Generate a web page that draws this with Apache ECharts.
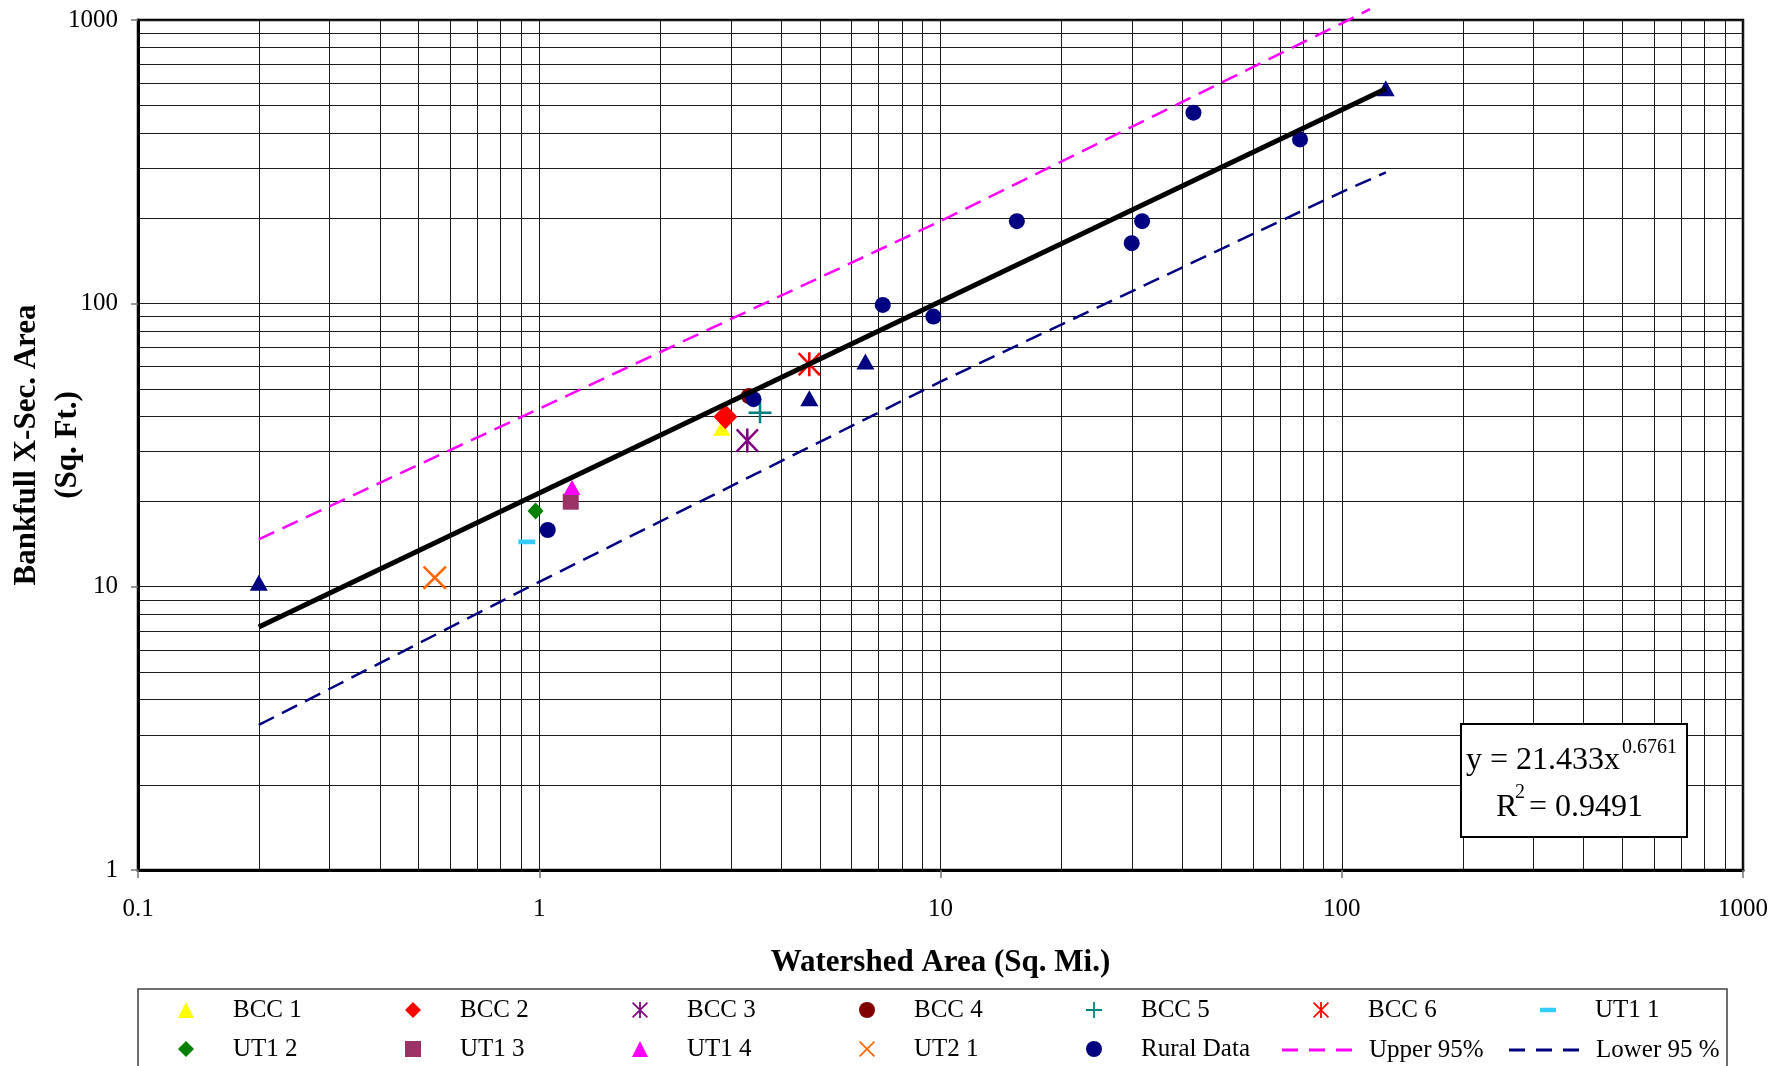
<!DOCTYPE html>
<html>
<head>
<meta charset="utf-8">
<script src="https://cdn.jsdelivr.net/npm/echarts@6/dist/echarts.min.js"></script>
<style>
  html, body { margin: 0; padding: 0; background: #ffffff; }
  #chart { width: 1789px; height: 1066px; }
</style>
</head>
<body>
<div id="chart"></div>
<script>
// ---------------- data ----------------
const xTicks = [0.1, 1, 10, 100, 1000];
const yTicks = [1, 10, 100, 1000];
const xMinorGrid = [0.2, 0.3, 0.4, 0.5, 0.6, 0.7, 0.8, 0.9,
                    2, 3, 4, 5, 6, 7, 8, 9,
                    20, 30, 40, 50, 60, 70, 80, 90,
                    200, 300, 400, 500, 600, 700, 800, 900];
const yMinorGrid = [2, 3, 4, 5, 6, 7, 8, 9,
                    20, 30, 40, 50, 60, 70, 80, 90,
                    200, 300, 400, 500, 600, 700, 800, 900];

const bcc1 = [[2.85, 36.2]];
const bcc2 = [[2.91, 39.8]];
const bcc3 = [[3.30, 32.8]];
const bcc4 = [[3.33, 47.1]];
const bcc5 = [[3.55, 41.1]];
const bcc6 = [[4.71, 61.0]];
const ut1_1 = [[0.931, 14.4]];
const ut1_2 = [[0.979, 18.5]];
const ut1_3 = [[1.198, 19.95]];
const ut1_4 = [[1.207, 22.4]];
const ut2_1 = [[0.549, 10.76]];
const ruralData = [[1.05, 15.85], [3.42, 45.9], [7.18, 98.7], [9.6, 89.8], [15.5, 195],
                   [29.96, 163], [31.8, 195], [42.7, 471], [78.7, 379]];
const otherData = [[0.2, 10.33], [4.71, 46.2], [6.5, 62.3], [128.7, 574]];
const trendLine = [[0.2, 7.2], [128.8, 572]];
const upper95 = [[0.2, 14.7], [1, 42.5], [10, 195], [100, 973], [117.5, 1092]];
const lower95 = [[0.2, 3.25], [1, 10.4], [10, 52.9], [100, 247], [128.8, 290]];

const legendColumns = [
  ['BCC 1', 'UT1 2'], ['BCC 2', 'UT1 3'], ['BCC 3', 'UT1 4'], ['BCC 4', 'UT2 1'],
  ['BCC 5', 'Rural Data'], ['BCC 6', 'Upper 95%'], ['UT1 1', 'Lower 95 %']
];
const lineLegendNames = ['Upper 95%', 'Lower 95 %'];

// ---------------- styling ----------------
const FONT = "'Liberation Serif','Times New Roman',serif";
const SYM = {
  triangle: 'path://M50 0 L100 100 L0 100 Z',
  diamond: 'path://M50 0 L100 50 L50 100 L0 50 Z',
  square: 'path://M0 0 H100 V100 H0 Z',
  plus: 'path://M44.5 0 H55.5 V44.5 H100 V55.5 H55.5 V100 H44.5 V55.5 H0 V44.5 H44.5 Z',
  cross: 'path://M0 7.5 L7.5 0 L100 92.5 L92.5 100 Z M92.5 0 L100 7.5 L7.5 100 L0 92.5 Z',
  star: 'path://M0 7.5 L7.5 0 L100 92.5 L92.5 100 Z M92.5 0 L100 7.5 L7.5 100 L0 92.5 Z M44.5 0 H55.5 V100 H44.5 Z',
  dash: 'path://M0 36 H100 V64 H0 Z M0 0 L0.4 0 L0 0.4 Z M100 100 L99.6 100 L100 99.6 Z'
};
const DASH_ICON = 'path://M0 5.5 H16 V8.5 H0 Z M27 5.5 H43 V8.5 H27 Z M54 5.5 H70 V8.5 H54 Z M0 0 L0.2 0 L0 0.2 Z M70 14 L69.8 14 L70 13.8 Z';

function scatter(name, data, symbol, size, color, z) {
  return {
    name: name, type: 'scatter', data: data, symbol: symbol, symbolSize: size,
    itemStyle: { color: color, opacity: 1 }, z: z || 3, silent: true
  };
}

function gridSeries(values, vertical) {
  return {
    type: 'custom', silent: true, z: 1,
    data: values.map(v => vertical ? [v, 1] : [1, v]),
    encode: { x: 0, y: 1 },
    renderItem: function (params, api) {
      const cs = params.coordSys;
      const p = api.coord([api.value(0), api.value(1)]);
      if (vertical) {
        const x = Math.round(p[0]) + 0.5;
        return { type: 'line', shape: { x1: x, y1: cs.y, x2: x, y2: cs.y + cs.height },
                 style: { stroke: '#1a1a1a', lineWidth: 1 } };
      }
      const y = Math.round(p[1]) + 0.5;
      return { type: 'line', shape: { x1: cs.x, y1: y, x2: cs.x + cs.width, y2: y },
               style: { stroke: '#1a1a1a', lineWidth: 1 } };
    }
  };
}

// one legend per entry, laid out on a 7 x 2 grid like the reference
const legends = [];
legendColumns.forEach((col, i) => {
  col.forEach((name, j) => {
    const isLine = lineLegendNames.indexOf(name) >= 0;
    const center = 186 + i * 227;
    legends.push({
      data: isLine ? [{ name: name, icon: DASH_ICON }] : [name],
      orient: 'vertical',
      left: isLine ? center - 39 : center - 8,
      top: isLine ? 997 + j * 39 : 996 + j * 39,
      itemWidth: isLine ? 70 : 16, itemHeight: isLine ? 14 : 16, itemGap: 0, padding: 0,
      symbolKeepAspect: !isLine,
      selectedMode: false,
      textStyle: { fontFamily: FONT, fontSize: 25, color: '#000', lineHeight: 28,
                   padding: [0, 0, 0, isLine ? 12 : 34] }
    });
  });
});

const chart = echarts.init(document.getElementById('chart'));
chart.setOption({
  animation: false,
  backgroundColor: '#ffffff',
  grid: { left: 138, right: 46, top: 20, bottom: 196, show: true, containLabel: false,
          outerBoundsMode: 'none',
          borderColor: '#000', borderWidth: 2.5, backgroundColor: 'transparent' },
  legend: legends,
  xAxis: {
    type: 'log', logBase: 10, min: xTicks[0], max: xTicks[xTicks.length - 1],
    name: 'Watershed Area (Sq. Mi.)', nameLocation: 'middle', nameGap: 77, nameMoveOverlap: false,
    nameTextStyle: { fontFamily: FONT, fontSize: 31, fontWeight: 'bold', color: '#000' },
    axisLine: { show: true, lineStyle: { color: '#000', width: 3 } },
    axisTick: { show: true, length: 8, lineStyle: { color: '#777', width: 1.5 } },
    axisLabel: { fontFamily: FONT, fontSize: 25, color: '#000', margin: 27,
                 formatter: v => String(v) },
    splitLine: { show: true, lineStyle: { color: '#1a1a1a', width: 1 } }
  },
  yAxis: {
    type: 'log', logBase: 10, min: yTicks[0], max: yTicks[yTicks.length - 1],
    name: 'Bankfull X-Sec. Area\n(Sq. Ft.)', nameLocation: 'middle', nameGap: 50, nameRotate: 90,
    nameMoveOverlap: false,
    nameTextStyle: { fontFamily: FONT, fontSize: 31, fontWeight: 'bold', color: '#000', lineHeight: 41, align: 'center' },
    axisLine: { show: true, lineStyle: { color: '#000', width: 3 } },
    axisTick: { show: true, length: 7, lineStyle: { color: '#777', width: 1.5 } },
    axisLabel: { fontFamily: FONT, fontSize: 25, color: '#000', margin: 20,
                 formatter: v => String(v) },
    splitLine: { show: true, lineStyle: { color: '#1a1a1a', width: 1 } }
  },
  series: [
    gridSeries(xMinorGrid, true),
    gridSeries(yMinorGrid, false),
    { name: 'Upper 95%', type: 'line', data: upper95, symbol: 'none', clip: false, z: 2, silent: true,
      lineStyle: { color: '#FF00FF', width: 2.5, type: [17, 9] }, itemStyle: { color: '#FF00FF' } },
    { name: 'Lower 95 %', type: 'line', data: lower95, symbol: 'none', z: 2, silent: true,
      lineStyle: { color: '#000080', width: 2.5, type: [17, 9] }, itemStyle: { color: '#000080' } },
    scatter('BCC 1', bcc1, SYM.triangle, [17, 15], '#FFFF00'),
    scatter('BCC 2', bcc2, SYM.diamond, [24, 25], '#FF0000'),
    scatter('BCC 3', bcc3, SYM.star, [23, 24], '#800080'),
    scatter('BCC 4', bcc4, 'circle', 16, '#800000'),
    scatter('BCC 5', bcc5, SYM.plus, [23, 21], '#008080'),
    scatter('BCC 6', bcc6, SYM.star, [23, 24], '#FF0000'),
    scatter('UT1 1', ut1_1, SYM.dash, [17, 17], '#33CCFF'),
    scatter('UT1 2', ut1_2, SYM.diamond, [16, 17], '#008000'),
    scatter('UT1 3', ut1_3, SYM.square, [16, 16], '#993366'),
    scatter('UT1 4', ut1_4, SYM.triangle, [17, 15], '#FF00FF'),
    scatter('UT2 1', ut2_1, SYM.cross, [24, 24], '#FF6600'),
    scatter('Rural Data', ruralData, 'circle', 16, '#000080'),
    scatter('Other Data', otherData, SYM.triangle, [18, 16], '#000080'),
    { name: 'Power Trend', type: 'line', data: trendLine, symbol: 'none', z: 5, silent: true,
      lineStyle: { color: '#000', width: 5 }, itemStyle: { color: '#000' } }
  ],
  graphic: [
    { type: 'rect', shape: { x: 138, y: 989, width: 1589, height: 100 },
      style: { fill: 'none', stroke: '#404040', lineWidth: 1.5 }, z: 10 },
    { type: 'rect', shape: { x: 1461, y: 724, width: 226, height: 113 },
      style: { fill: '#fff', stroke: '#000', lineWidth: 2 }, z: 10 },
    { type: 'text', x: 1466, y: 761, z: 11,
      style: { text: 'y = 21.433x', font: '32px ' + FONT, fill: '#000',
               align: 'left', textAlign: 'left', verticalAlign: 'middle', textVerticalAlign: 'middle' } },
    { type: 'text', x: 1622, y: 748, z: 11,
      style: { text: '0.6761', font: '20px ' + FONT, fill: '#000',
               align: 'left', textAlign: 'left', verticalAlign: 'middle', textVerticalAlign: 'middle' } },
    { type: 'text', x: 1496, y: 807.5, z: 11,
      style: { text: 'R', font: '32px ' + FONT, fill: '#000',
               align: 'left', textAlign: 'left', verticalAlign: 'middle', textVerticalAlign: 'middle' } },
    { type: 'text', x: 1515, y: 793, z: 11,
      style: { text: '2', font: '20px ' + FONT, fill: '#000',
               align: 'left', textAlign: 'left', verticalAlign: 'middle', textVerticalAlign: 'middle' } },
    { type: 'text', x: 1529, y: 807.5, z: 11,
      style: { text: '= 0.9491', font: '32px ' + FONT, fill: '#000',
               align: 'left', textAlign: 'left', verticalAlign: 'middle', textVerticalAlign: 'middle' } }
  ]
});
</script>
</body>
</html>
